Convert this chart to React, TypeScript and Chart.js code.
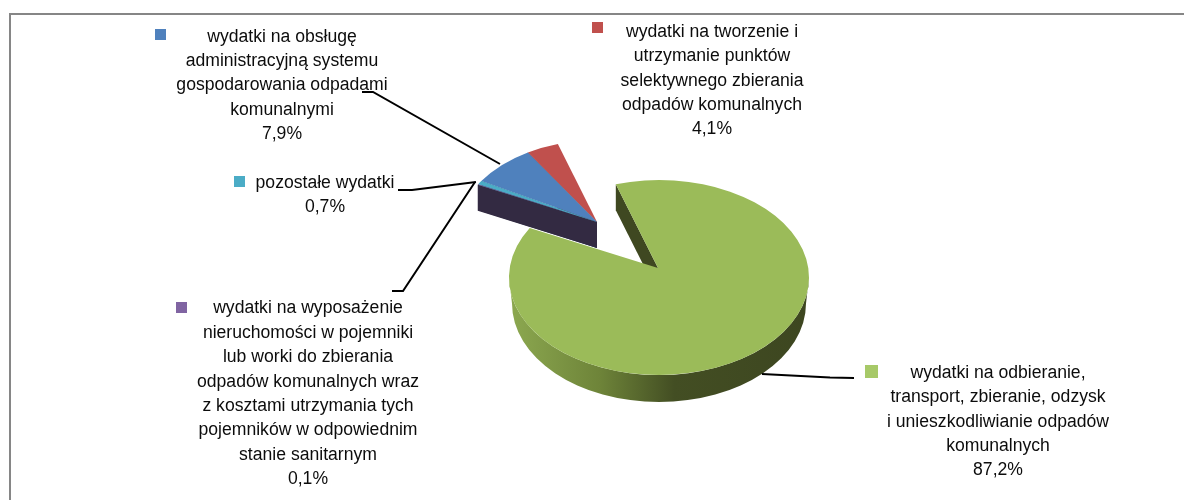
import React, { useEffect, useRef } from "react";
import { Chart, registerables } from "chart.js";

Chart.register(...registerables);

// --- data ---
const categories = [
  "wydatki na odbieranie, transport, zbieranie, odzysk i unieszkodliwianie odpadów komunalnych",
  "wydatki na wyposażenie nieruchomości w pojemniki lub worki do zbierania odpadów komunalnych wraz z kosztami utrzymania tych pojemników w odpowiednim stanie sanitarnym",
  "pozostałe wydatki",
  "wydatki na obsługę administracyjną systemu gospodarowania odpadami komunalnymi",
  "wydatki na tworzenie i utrzymanie punktów selektywnego zbierania odpadów komunalnych",
];
const values = [87.2, 0.1, 0.7, 7.9, 4.1];
const valueLabels = ["87,2%", "0,1%", "0,7%", "7,9%", "4,1%"];
const labelLines = [
  ["wydatki na odbieranie,", "transport, zbieranie, odzysk", "i unieszkodliwianie odpadów", "komunalnych"],
  ["wydatki na wyposażenie", "nieruchomości w pojemniki", "lub worki do zbierania", "odpadów komunalnych wraz", "z kosztami utrzymania tych", "pojemników w odpowiednim", "stanie sanitarnym"],
  ["pozostałe wydatki"],
  ["wydatki na obsługę", "administracyjną systemu", "gospodarowania odpadami", "komunalnymi"],
  ["wydatki na tworzenie i", "utrzymanie punktów", "selektywnego zbierania", "odpadów komunalnych"],
];
const topColors = ["#9BBB59", "#8064A2", "#4BACC6", "#4F81BD", "#C0504D"];
const wallColors = ["#3F4821", "#332A42", "#2A5A68", "#2A4468", "#662A28"];
const keyColors = ["#A7C968", "#8064A2", "#4BACC6", "#4F81BD", "#C0504D"];

// --- layout ---
const FONT = '17.6px "Liberation Sans", Arial, sans-serif';
const LINE_H = 24.4;
const DEPTH = 26;
const APEX_SHIFT = -0.0974; // apex sits above the ellipse centre (perspective)
const pies = {
  main: { ax: 658, ay: 268, cx: 659, cy: 277.5, rx: 150, ry: 97.5 },
  exploded: { ax: 597, ay: 222, cx: 598, cy: 230.8, rx: 139.5, ry: 90.7 },
};
const labelPos = [
  { x: 998, y: 373, kx: 865, ky: 365, ks: 13 },
  { x: 308, y: 308.5, kx: 176, ky: 302, ks: 11 },
  { x: 325, y: 183, kx: 234, ky: 176, ks: 11 },
  { x: 282, y: 36.7, kx: 155, ky: 29, ks: 11 },
  { x: 712, y: 32, kx: 592, ky: 22, ks: 11 },
];
const leaders = [
  [[762, 374], [830, 377.6], [854, 378]],
  [[392, 291], [403, 291], [475, 182]],
  [[398, 190], [412, 190], [476, 182]],
  [[362, 92], [373, 92], [500, 164]],
];

function rimAngle(theta: number) {
  const a = APEX_SHIFT;
  const s = -a * Math.sin(theta) + Math.sqrt(a * a * Math.sin(theta) ** 2 - a * a + 1);
  return Math.atan2(a + s * Math.sin(theta), s * Math.cos(theta));
}

function sector(ctx: CanvasRenderingContext2D, p: any, t1: number, t2: number) {
  ctx.beginPath();
  ctx.moveTo(p.ax, p.ay);
  ctx.ellipse(p.cx, p.cy, p.rx, p.ry, 0, t1, t2, false);
  ctx.closePath();
}

function wall(ctx: CanvasRenderingContext2D, p: any, t: number, color: string) {
  const x = p.cx + p.rx * Math.cos(t);
  const y = p.cy + p.ry * Math.sin(t);
  ctx.beginPath();
  ctx.moveTo(x, y);
  ctx.lineTo(p.ax, p.ay);
  ctx.lineTo(p.ax, p.ay + DEPTH);
  ctx.lineTo(x, y + DEPTH);
  ctx.closePath();
  ctx.fillStyle = color;
  ctx.fill();
}

const pie3d = {
  id: "pie3d",
  beforeDatasetsDraw(chart: any) {
    const ctx: CanvasRenderingContext2D = chart.ctx;
    const arcs = chart.getDatasetMeta(0).data;
    const ang = arcs.map((e: any) => [rimAngle(e.startAngle), rimAngle(e.endAngle)]);
    ctx.save();

    // main slice: outer band, wedge wall, top
    const m = pies.main;
    const g = ctx.createLinearGradient(510, 0, 809, 0);
    g.addColorStop(0, "#8CA850");
    g.addColorStop(0.3, "#6E8439");
    g.addColorStop(0.55, "#434E23");
    g.addColorStop(1, "#3D4620");
    ctx.beginPath();
    ctx.ellipse(m.cx, m.cy, m.rx, m.ry, 0, 0, Math.PI, false);
    ctx.ellipse(m.cx, m.cy + DEPTH, m.rx - 3, m.ry + 1, 0, Math.PI, 0, true);
    ctx.closePath();
    ctx.fillStyle = g;
    ctx.fill();
    wall(ctx, m, ang[0][0], wallColors[0]);
    sector(ctx, m, ang[0][0], ang[0][1]);
    ctx.fillStyle = topColors[0];
    ctx.fill();

    // exploded group: walls from the back forward, then tops
    const ex = pies.exploded;
    for (let i = arcs.length - 1; i >= 1; i--) wall(ctx, ex, ang[i][0], wallColors[i]);
    for (let i = arcs.length - 1; i >= 1; i--) {
      sector(ctx, ex, ang[i][0], ang[i][1]);
      ctx.fillStyle = topColors[i];
      ctx.fill();
    }
    ctx.restore();
    return false;
  },
  afterDraw(chart: any) {
    const ctx: CanvasRenderingContext2D = chart.ctx;
    ctx.save();
    // frame
    ctx.fillStyle = "#868686";
    ctx.fillRect(9, 13, 1175, 2);
    ctx.fillRect(9, 13, 2, 487);
    // leaders
    ctx.strokeStyle = "#000";
    ctx.lineWidth = 2;
    leaders.forEach((pts) => {
      ctx.beginPath();
      pts.forEach(([x, y], i) => (i ? ctx.lineTo(x, y) : ctx.moveTo(x, y)));
      ctx.stroke();
    });
    // labels
    ctx.font = FONT;
    ctx.textAlign = "center";
    ctx.textBaseline = "middle";
    labelPos.forEach((p, i) => {
      ctx.fillStyle = keyColors[i];
      ctx.fillRect(p.kx, p.ky, p.ks, p.ks);
      ctx.fillStyle = "#0c0c0c";
      [...labelLines[i], valueLabels[i]].forEach((t, j) => ctx.fillText(t, p.x, p.y + j * LINE_H));
    });
    ctx.restore();
  },
};

export default function App() {
  const ref = useRef<HTMLCanvasElement>(null);
  useEffect(() => {
    const chart = new Chart(ref.current!, {
      type: "pie",
      data: {
        labels: categories,
        datasets: [{ data: values, backgroundColor: topColors, borderWidth: 0 }],
      },
      options: {
        responsive: false,
        animation: false,
        rotation: -18.5,
        plugins: { legend: { display: false }, tooltip: { enabled: false } },
      },
      plugins: [pie3d],
    } as any);
    return () => chart.destroy();
  }, []);
  return (
    <div style={{ position: "fixed", left: 0, top: 0, width: 1184, height: 500, background: "#fff" }}>
      <canvas ref={ref} width={1184} height={500} style={{ display: "block" }} />
    </div>
  );
}
